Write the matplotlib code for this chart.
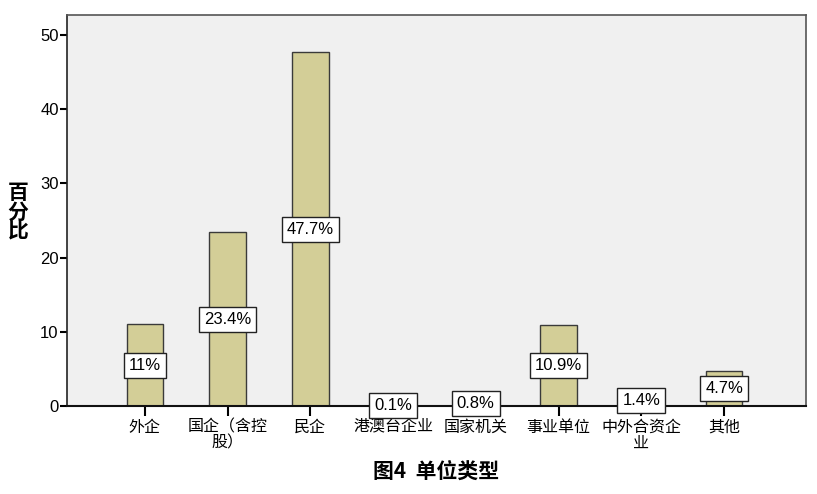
import matplotlib
matplotlib.use('Agg')
import matplotlib.pyplot as plt
import numpy as np

plt.rcParams['font.family'] = ['Liberation Sans', 'Noto Sans CJK SC', 'DejaVu Sans']

labels = ['外企', '国企（含控\n股）', '民企', '港澳台企业', '国家机关', '事业单位', '中外合资企\n业', '其他']
values = [11.0, 23.4, 47.7, 0.1, 0.8, 10.9, 1.4, 4.7]
value_text = ['11%', '23.4%', '47.7%', '0.1%', '0.8%', '10.9%', '1.4%', '4.7%']

fig = plt.figure(figsize=(8.17, 4.94), dpi=100)
ax = fig.add_axes([67 / 817, 1 - 406 / 494, (806 - 67) / 817, (406 - 15) / 494])
ax.set_facecolor('#F0F0F0')

x = np.arange(len(labels))
ax.bar(x, values, 0.44, color='#D3CE97', edgecolor='#3A3A3A', lw=1, zorder=2)

for xi, v, t in zip(x, values, value_text):
    ax.text(xi, v / 2, t, ha='center', va='center', fontsize=12, zorder=3,
            bbox=dict(boxstyle='square,pad=0.3', fc='white', ec='#222222', lw=1))

ax.set_xlim(-0.94, 7.99)
ax.set_ylim(0, 52.7)
ax.set_yticks([0, 10, 20, 30, 40, 50])
ax.set_xticks(x)
ax.set_xticklabels(labels, family=['Noto Sans CJK SC'], fontsize=11.5, linespacing=0.95)
ax.tick_params(axis='y', labelsize=12, length=5, width=1.5, pad=1)
ax.tick_params(axis='x', length=7, width=1.5, pad=2)

for s in ['top', 'right', 'left']:
    ax.spines[s].set_color('#555555')
    ax.spines[s].set_linewidth(1.2)
ax.spines['left'].set_color('#222222')
ax.spines['bottom'].set_color('#111111')
ax.spines['bottom'].set_linewidth(1.5)

fig.text(18 / 817, 1 - 212 / 494, '百\n分\n比', ha='center', va='center', fontsize=15,
         fontweight='bold', family=['Noto Sans CJK SC'], linespacing=0.9)
fig.text(436 / 817, 1 - 471 / 494, '图4  单位类型', ha='center', va='center', fontsize=15,
         fontweight='bold', family=['Noto Sans CJK SC'])

plt.savefig('out.png', dpi=100)
